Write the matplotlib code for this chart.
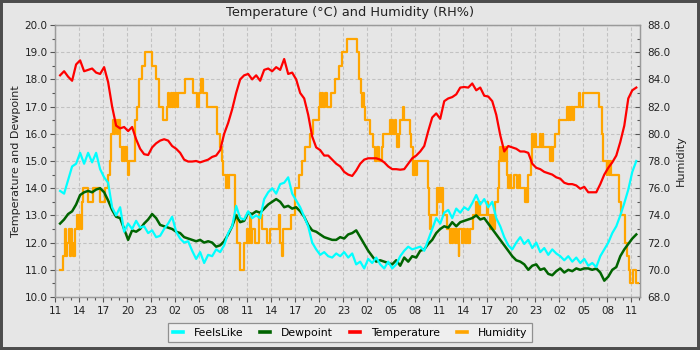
import numpy as np
import matplotlib
matplotlib.use("Agg")
import matplotlib.pyplot as plt
from matplotlib.ticker import MultipleLocator, FuncFormatter, FormatStrFormatter
from matplotlib.patches import Rectangle

# Half-hourly readings, hours counted from 11:00 on the first day
hours = 0.6 + 0.5 * np.arange(145)

temperature = [
    18.15, 18.3, 18.1, 17.95, 18.55, 18.7, 18.3, 18.35, 18.4, 18.25,
    18.2, 18.45, 17.9, 17.0, 16.3, 16.2, 16.25, 16.1, 16.25, 15.8,
    15.45, 15.25, 15.22, 15.5, 15.65, 15.75, 15.8, 15.75, 15.55, 15.45,
    15.3, 15.05, 14.98, 14.98, 15.0, 14.95, 15.0, 15.05, 15.15, 15.2,
    15.4, 16.0, 16.4, 16.9, 17.5, 18.0, 18.15, 18.2, 18.0, 18.15,
    17.95, 18.35, 18.4, 18.3, 18.45, 18.35, 18.75, 18.2, 18.25, 18.0,
    17.5, 17.3, 16.7, 15.9, 15.5, 15.4, 15.2, 15.2, 15.05, 14.9,
    14.8, 14.6, 14.5, 14.45, 14.65, 14.9, 15.05, 15.1, 15.1, 15.1,
    15.05, 14.95, 14.8, 14.7, 14.7, 14.68, 14.7, 14.9, 15.1, 15.2,
    15.35, 15.55, 16.1, 16.6, 16.75, 16.55, 17.2, 17.3, 17.35, 17.45,
    17.7, 17.72, 17.7, 17.85, 17.6, 17.7, 17.4, 17.37, 17.2, 16.7,
    15.95, 15.35, 15.55, 15.5, 15.45, 15.35, 15.35, 15.3, 14.9, 14.75,
    14.7, 14.6, 14.55, 14.5, 14.4, 14.35, 14.2, 14.15, 14.15, 14.1,
    13.98, 14.05, 13.85, 13.85, 13.85, 14.15, 14.5, 14.75, 14.95, 15.2,
    15.7, 16.3, 17.3, 17.6, 17.7,
]

feels_like = [
    13.9, 13.8, 14.3, 14.8, 14.9, 15.3, 14.9, 15.3, 14.95, 15.3,
    14.7, 14.4, 14.2, 13.3, 13.0, 13.3, 12.4, 12.7, 12.5, 12.8,
    12.55, 12.6, 12.35, 12.45, 12.2, 12.25, 12.5, 12.7, 12.95, 12.4,
    12.15, 12.0, 12.05, 11.7, 11.4, 11.65, 11.25, 11.55, 11.5, 11.75,
    11.65, 11.9, 12.35, 12.6, 13.35, 12.9, 12.85, 13.15, 12.9, 13.0,
    12.9, 13.6, 13.85, 14.0, 13.8, 14.15, 14.2, 14.4, 13.8, 13.55,
    13.3, 12.95, 12.6, 12.0, 11.75, 11.55, 11.65, 11.5, 11.45, 11.6,
    11.5, 11.65, 11.45, 11.6, 11.2, 11.3, 11.05, 11.4, 11.25, 11.45,
    11.2, 11.05, 11.3, 11.05, 11.2, 11.5, 11.7, 11.85, 11.75, 11.8,
    11.85, 11.7, 12.1, 12.5, 12.9, 12.7, 13.1, 13.2, 12.9, 13.25,
    13.1, 13.3, 13.2, 13.45, 13.75, 13.4, 13.6, 13.3, 13.5, 12.9,
    12.6, 12.2, 11.9, 11.75, 12.0, 12.2, 11.95, 12.1, 11.8, 12.0,
    11.65, 11.8, 11.55, 11.75, 11.6, 11.5, 11.35, 11.5, 11.3, 11.45,
    11.25, 11.4, 11.15, 11.25, 11.1, 11.5, 11.75, 12.0, 12.35, 12.6,
    13.0, 13.45, 13.95, 14.6, 15.0,
]

dewpoint = [
    12.7, 12.85, 13.05, 13.15, 13.4, 13.75, 13.85, 13.9, 13.85, 13.95,
    14.0, 13.85, 13.55, 13.2, 12.95, 12.9, 12.5, 12.1, 12.45, 12.4,
    12.5, 12.7, 12.85, 13.05, 12.9, 12.65, 12.6, 12.55, 12.5, 12.4,
    12.35, 12.2, 12.15, 12.1, 12.05, 12.1, 12.0, 12.05, 12.0, 11.85,
    11.9, 12.05, 12.3, 12.6, 13.0, 12.75, 12.8, 13.1, 13.05, 13.15,
    13.1, 13.25, 13.4, 13.5, 13.6, 13.5, 13.3, 13.35, 13.25, 13.3,
    13.15, 12.95, 12.65, 12.45, 12.4, 12.3, 12.2, 12.15, 12.1, 12.1,
    12.2, 12.15, 12.3, 12.35, 12.45, 12.2, 11.95, 11.7, 11.5, 11.3,
    11.35, 11.3, 11.25, 11.2, 11.35, 11.15, 11.45, 11.3, 11.5, 11.45,
    11.7, 11.75, 11.95, 12.1, 12.35, 12.5, 12.6, 12.55, 12.75, 12.6,
    12.75, 12.8, 12.85, 12.9, 13.0, 12.85, 12.9, 12.7, 12.5, 12.3,
    12.1, 11.9, 11.7, 11.5, 11.35, 11.3, 11.2, 11.0, 11.15, 11.2,
    11.0, 11.05, 10.85, 10.8, 10.95, 11.05, 10.9, 11.0, 10.95, 11.05,
    11.0, 11.05, 11.05, 11.0, 11.05, 10.9, 10.6, 10.75, 11.0, 11.1,
    11.5, 11.75, 11.95, 12.15, 12.3,
]

# Humidity is logged in whole percent: (hour the reading starts, RH)
humidity_steps = [
    (0.58, 70), (1.0, 71), (1.2, 73), (1.35, 71), (1.5, 72), (1.65, 73), (1.8, 71),
    (1.95, 73), (2.1, 72), (2.25, 71), (2.4, 73), (2.7, 74), (2.85, 73), (3.0, 74),
    (3.15, 73), (3.3, 75), (3.5, 76), (4.1, 75), (4.75, 76), (5.6, 75), (6.2, 76),
    (6.6, 77), (6.8, 78), (7.0, 80), (7.2, 81), (7.35, 80), (7.5, 81), (7.7, 80),
    (7.8, 81), (8.1, 79), (8.3, 78), (8.45, 79), (8.6, 78), (8.75, 79), (8.9, 78),
    (9.1, 77), (9.2, 78), (9.96, 81), (10.2, 82), (10.4, 84), (10.8, 85), (11.2, 86),
    (12.1, 85), (12.6, 84), (12.9, 82), (13.5, 81), (13.9, 82), (14.1, 83), (14.25, 82),
    (14.4, 83), (14.55, 82), (14.7, 83), (14.85, 82), (15.0, 83), (15.15, 82), (15.3, 83),
    (16.2, 84), (17.25, 83), (17.7, 82), (18.0, 83), (18.2, 84), (18.5, 83), (18.9, 82),
    (20.2, 80), (20.6, 79), (20.8, 78), (21.0, 77), (21.3, 76), (21.45, 77), (21.6, 76),
    (21.75, 77), (22.5, 74), (22.7, 72), (23.1, 70), (23.6, 72), (23.9, 73), (24.1, 72),
    (24.3, 74), (24.45, 72), (24.6, 73), (25.0, 72), (25.4, 74), (25.8, 73), (26.4, 72),
    (26.8, 73), (27.9, 74), (28.1, 72), (28.3, 71), (28.5, 73), (29.5, 74), (30.0, 76),
    (30.4, 77), (30.8, 78), (31.2, 79), (31.8, 80), (32.25, 81), (32.9, 82), (33.05, 83),
    (33.2, 82), (33.35, 83), (33.5, 82), (33.65, 83), (33.9, 82), (34.5, 83), (34.96, 84),
    (35.4, 85), (35.8, 86), (36.4, 87), (37.7, 86), (37.9, 84), (38.2, 83), (38.3, 82),
    (38.45, 83), (38.55, 82), (38.7, 81), (39.3, 80), (39.75, 79), (40.0, 78), (40.15, 79),
    (40.4, 78), (40.8, 79), (41.0, 80), (41.8, 81), (41.95, 80), (42.1, 81), (42.25, 80),
    (42.4, 81), (42.55, 80), (42.7, 79), (42.9, 80), (43.1, 81), (43.4, 82), (43.6, 81),
    (44.3, 80), (44.5, 79), (44.75, 77), (44.9, 78), (45.05, 77), (45.2, 78), (46.6, 76),
    (46.7, 74), (46.8, 73), (47.0, 74), (47.7, 76), (47.85, 75), (48.0, 76), (48.15, 75),
    (48.3, 76), (48.5, 74), (48.9, 73), (49.3, 72), (49.45, 73), (49.6, 72), (49.75, 73),
    (49.9, 72), (50.05, 73), (50.2, 72), (50.4, 71), (50.5, 73), (50.8, 72), (51.0, 73),
    (51.2, 72), (51.4, 73), (51.6, 72), (51.8, 73), (52.25, 74), (52.6, 75), (52.75, 74),
    (52.9, 75), (53.05, 74), (53.9, 75), (54.1, 74), (54.3, 73), (54.5, 74), (54.7, 73),
    (55.0, 75), (55.3, 76), (55.4, 78), (55.55, 79), (55.7, 78), (55.85, 79), (56.0, 78),
    (56.2, 79), (56.4, 77), (56.6, 76), (56.8, 77), (57.0, 76), (57.3, 77), (57.7, 76),
    (57.9, 77), (58.1, 76), (58.7, 75), (58.9, 76), (59.0, 75), (59.1, 77), (59.5, 78),
    (59.6, 80), (59.75, 79), (59.9, 80), (60.05, 79), (60.6, 80), (60.75, 79), (60.9, 80),
    (61.0, 79), (61.8, 78), (61.95, 79), (62.1, 78), (62.25, 79), (62.5, 80), (62.9, 81),
    (63.9, 82), (64.05, 81), (64.2, 82), (64.35, 81), (64.5, 82), (64.65, 81), (64.8, 82),
    (65.4, 83), (65.55, 82), (66.0, 83), (67.9, 82), (68.3, 80), (68.5, 78), (68.9, 77),
    (69.0, 78), (69.15, 77), (69.3, 78), (69.5, 77), (70.4, 75), (70.75, 74), (71.2, 72),
    (71.5, 71), (71.65, 70), (71.8, 69), (72.2, 70), (72.6, 69), (72.8, 69),
]
hum_hours = [h for h, _ in humidity_steps]
hum_rh = [v for _, v in humidity_steps]

first_hour = 11
bg = "#e6e6e6"
grid_color = "#c2c2c2"
spine_color = "#9a9a9a"

fig = plt.figure(figsize=(7, 3.5), dpi=100, facecolor=bg)
ax = fig.add_axes([55.3 / 700, 53 / 350, 585 / 700, 272 / 350])
ax2 = ax.twinx()

# humidity sits underneath the temperature series
ax.set_zorder(ax2.get_zorder() + 1)
ax.patch.set_visible(False)
ax2.set_facecolor(bg)

hum_line, = ax2.step(hum_hours, hum_rh, where="post", color="#ffa500", lw=1.6,
                     label="Humidity")
temp_line, = ax.plot(hours, temperature, color="#ff0000", lw=1.6, zorder=2,
                     label="Temperature")
dew_line, = ax.plot(hours, dewpoint, color="#006400", lw=1.8, zorder=3,
                    label="Dewpoint")
feels_line, = ax.plot(hours, feels_like, color="#00ffff", lw=1.6, zorder=4,
                      label="FeelsLike")

ax.set_xlim(0, 73.1)
ax.set_ylim(10, 20)
ax2.set_ylim(68, 88)

ax.xaxis.set_major_locator(MultipleLocator(3))
ax.xaxis.set_minor_locator(MultipleLocator(1))
ax.xaxis.set_major_formatter(
    FuncFormatter(lambda h, _: f"{int(round(first_hour + h)) % 24:02d}"))
ax.yaxis.set_major_locator(MultipleLocator(1))
ax.yaxis.set_minor_locator(MultipleLocator(0.5))
ax.yaxis.set_major_formatter(FormatStrFormatter("%.1f"))
ax2.yaxis.set_major_locator(MultipleLocator(2))
ax2.yaxis.set_minor_locator(MultipleLocator(1))
ax2.yaxis.set_major_formatter(FormatStrFormatter("%.1f"))

# dashed grid on the humidity axes so it stays behind every line;
# the twin's x axis is shown only to carry the vertical grid lines
ax2.xaxis.set_visible(True)
ax2.tick_params(axis="x", which="both", bottom=False, top=False,
                labelbottom=False, labeltop=False)
ax2.grid(True, which="major", axis="both", color=grid_color, ls=(0, (3, 2)), lw=0.8)
ax2.set_axisbelow(True)

for a in (ax, ax2):
    for s in a.spines.values():
        s.set_color(spine_color)
        s.set_linewidth(0.9)

ax.tick_params(axis="both", which="major", labelsize=7.5, color="#555555",
               length=3.5, width=0.8, labelcolor="#222222", pad=2)
ax.tick_params(axis="both", which="minor", color="#555555", length=2, width=0.8)
ax.tick_params(axis="x", which="major", pad=3)
ax2.tick_params(axis="y", which="major", direction="in", labelsize=7.5,
                color="#555555", length=3.5, width=0.8, labelcolor="#222222", pad=5)
ax2.tick_params(axis="y", which="minor", direction="in", color="#555555",
                length=2, width=0.8)

ax.set_ylabel("Temperature and Dewpoint", fontsize=8, color="#222222", labelpad=2.5)
ax2.set_ylabel("Humidity", fontsize=8, color="#222222", rotation=90, labelpad=4)
fig.suptitle("Temperature (°C) and Humidity (RH%)", fontsize=9.3, color="#222222",
             y=0.984, va="top")

leg = fig.legend([feels_line, dew_line, temp_line, hum_line],
                 ["FeelsLike", "Dewpoint", "Temperature", "Humidity"],
                 loc="lower center", bbox_to_anchor=(0.5, 0.006), ncol=4,
                 fontsize=7.8, frameon=True, fancybox=False, handlelength=0.9,
                 handletextpad=1.0, columnspacing=1.6, borderpad=0.45)
leg.get_frame().set_facecolor("#f2f2f2")
leg.get_frame().set_edgecolor("#7a7a7a")
leg.get_frame().set_linewidth(0.9)
for ln in leg.get_lines():
    ln.set_linewidth(2.6)

fig.patches.append(Rectangle((0, 0), 1, 1, transform=fig.transFigure, fill=False,
                             edgecolor="#4d4d4d", lw=4.3, clip_on=False))

fig.savefig("out.png", dpi=100, facecolor=bg)
